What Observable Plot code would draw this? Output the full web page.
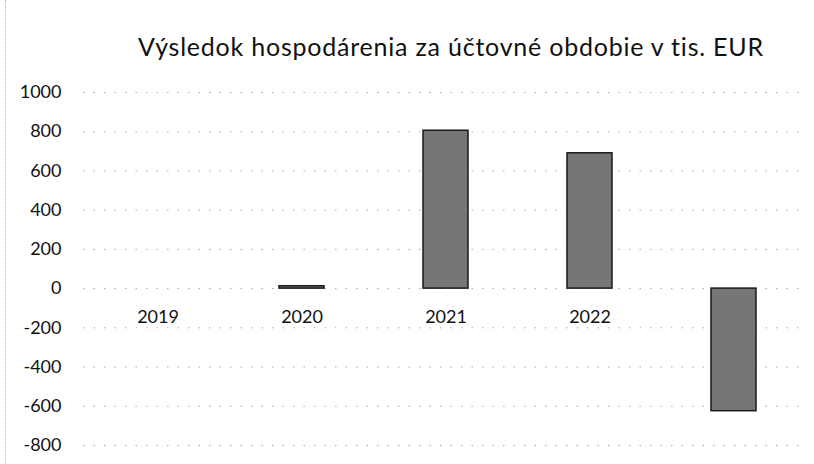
<!DOCTYPE html>
<html>
<head>
<meta charset="utf-8">
<script src="https://cdn.jsdelivr.net/npm/d3@7"></script>
<script src="https://cdn.jsdelivr.net/npm/@observablehq/plot@0.6"></script>
<style>
  html, body { margin: 0; padding: 0; background: #fff; }
  #wrap { position: relative; width: 814px; height: 464px; overflow: hidden; }
  #edge { position: absolute; left: 5px; top: 0; height: 464px; border-left: 1px dotted #b5b5b5; }
  #title { position: relative; width: 814px; height: 70px; }
  #title span { position: absolute; left: 138px; top: 31px; font-family: Lato, "Open Sans", sans-serif; font-size: 25px; letter-spacing: 0.78px; line-height: 30px; color: #111; white-space: nowrap; }
  svg { display: block; }
</style>
</head>
<body>
<div id="wrap">
  <div id="edge"></div>
  <div id="title"><span>Výsledok hospodárenia za účtovné obdobie v tis. EUR</span></div>
  <div id="chart"></div>
</div>
<script>
const years = ["2019", "2020", "2021", "2022", "2023"];
const results = [0, 12, 805, 690, -625];
const yTicks = [1000, 800, 600, 400, 200, 0, -200, -400, -600, -800];

const data = years.map((year, i) => ({year, value: results[i]}));

const chart = Plot.plot({
  width: 814,
  height: 394,
  marginTop: 22,
  marginBottom: 19,
  marginLeft: 83,
  marginRight: 7,
  style: {fontFamily: "Lato, 'Open Sans', sans-serif", fontSize: "18px", color: "#111", background: "#fff"},
  x: {domain: years, paddingInner: 0.69, paddingOuter: 0.345, axis: null},
  y: {domain: [-800, 1000], ticks: yTicks, tickSize: 0, tickPadding: 22, label: null, tickFormat: d => String(d)},
  marks: [
    Plot.ruleY(yTicks, {stroke: "#a8a8a8", strokeDasharray: "1.5,9", strokeWidth: 1}),
    Plot.text(data, {x: "year", y: () => 0, text: "year", dy: 29, fontSize: 18, fill: "#111"}),
    Plot.barY(data, {x: "year", y: "value", fill: "#767676", stroke: "#1a1a1a", strokeWidth: 1.5})
  ]
});
document.getElementById("chart").appendChild(chart);
</script>
</body>
</html>
